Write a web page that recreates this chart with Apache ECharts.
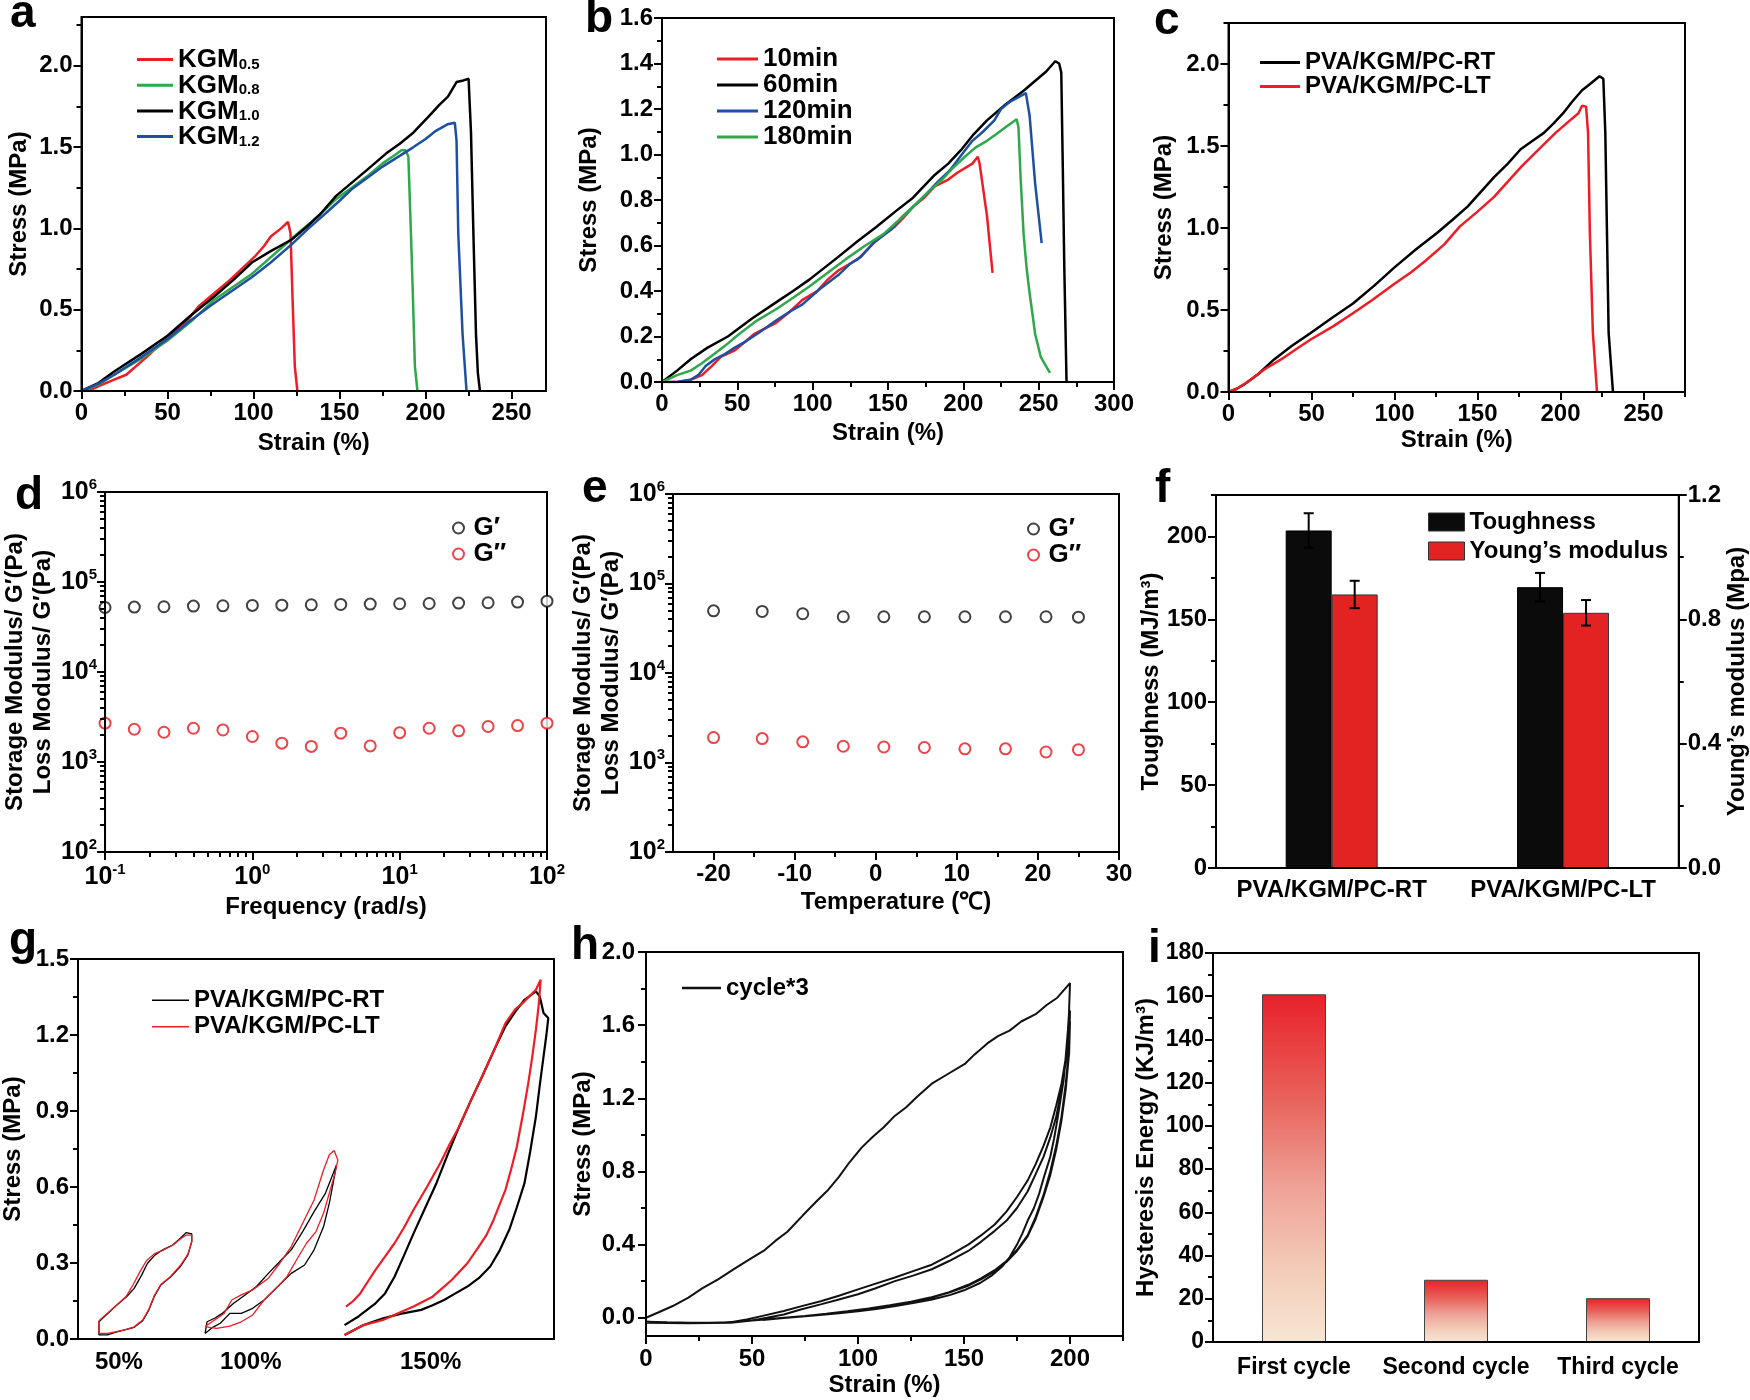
<!DOCTYPE html>
<html><head><meta charset="utf-8">
<script src="https://cdn.jsdelivr.net/npm/echarts@6/dist/echarts.min.js"></script>
<style>html,body{margin:0;padding:0;background:#fff}#c{width:1750px;height:1400px}</style>
</head><body><div id="c"></div>
<script>
// ---------------- DATA ----------------
// (a) KGM content, stress-strain
const aXTicks = [0, 50, 100, 150, 200, 250];
const aXMinor = [25, 75, 125, 175, 225];
const aYTicks = [0, 0.5, 1.0, 1.5, 2.0];
const aYMinor = [0.25, 0.75, 1.25, 1.75, 2.25];
const aNames = ['KGM0.5', 'KGM0.8', 'KGM1.0', 'KGM1.2'];
const aKGM05 = [[0,0],[5,0.005],[10,0.03],[19,0.07],[26,0.1],[38,0.21],[50,0.33],[62,0.44],[68,0.52],[77,0.6],[86,0.68],[95,0.77],[101,0.83],[106,0.89],[110,0.95],[116,1.0],[120,1.04],[121.5,0.97],[122.7,0.56],[124,0.15],[125.5,0]];
const aKGM08 = [[0,0],[10,0.04],[19,0.1],[35,0.2],[50,0.31],[65,0.44],[77,0.56],[88,0.64],[99,0.72],[113,0.85],[128,0.99],[138,1.08],[148,1.18],[157,1.25],[166,1.32],[175,1.4],[182,1.45],[186,1.48],[188.5,1.48],[190,1.44],[191.5,0.97],[192.7,0.56],[193.8,0.15],[195.3,0]];
const aKGM10 = [[0,0],[10,0.05],[19,0.12],[35,0.23],[50,0.34],[63,0.46],[77,0.58],[88,0.68],[99,0.79],[110,0.86],[122,0.93],[131,1.01],[139,1.09],[148,1.2],[157,1.28],[166,1.36],[177,1.46],[185,1.52],[193,1.59],[202,1.69],[208,1.76],[213,1.81],[218,1.9],[222,1.91],[225,1.92],[226.4,1.59],[227.8,0.97],[229.3,0.35],[230.4,0.11],[231.6,0]];
const aKGM12 = [[0,0],[10,0.045],[19,0.1],[35,0.21],[50,0.32],[63,0.43],[77,0.54],[88,0.62],[99,0.7],[110,0.79],[122,0.9],[132,1.0],[141.6,1.09],[150,1.17],[157,1.24],[166,1.31],[175,1.38],[184,1.44],[193,1.5],[200,1.55],[206,1.6],[212.7,1.64],[217,1.65],[218,1.54],[219,0.97],[221.5,0.35],[223.8,0]];

// (b) curing time
const bXTicks = [0, 50, 100, 150, 200, 250, 300];
const bXMinor = [25, 75, 125, 175, 225, 275];
const bYTicks = [0, 0.2, 0.4, 0.6, 0.8, 1.0, 1.2, 1.4, 1.6];
const bYMinor = [0.1, 0.3, 0.5, 0.7, 0.9, 1.1, 1.3, 1.5];
const bNames = ['10min', '60min', '120min', '180min'];
const b10 = [[0,0],[10,0],[19,0.01],[26.5,0.03],[33,0.07],[39,0.11],[48.6,0.14],[61,0.21],[75.7,0.26],[85,0.31],[93,0.36],[103,0.4],[110,0.45],[117,0.49],[130,0.54],[136,0.58],[142,0.62],[154,0.68],[160,0.72],[166.6,0.77],[174,0.81],[181,0.86],[190,0.89],[196,0.92],[206,0.96],[209.6,0.99],[210.8,0.96],[215.7,0.73],[219.4,0.48]];
const b60 = [[0,0],[10,0.05],[19,0.1],[30,0.15],[43.7,0.2],[60,0.28],[75.7,0.35],[87,0.4],[97.8,0.45],[117,0.55],[130,0.62],[142,0.68],[155,0.75],[166.6,0.81],[181,0.91],[190,0.96],[198.5,1.02],[207,1.09],[215.7,1.15],[228,1.22],[240,1.28],[255,1.365],[261,1.41],[263.6,1.4],[265,1.36],[266,0.95],[267,0.51],[268.5,0]];
const b120 = [[0,0],[10,0],[19,0.01],[24,0.03],[29,0.07],[35,0.1],[41,0.12],[48,0.15],[56,0.18],[65,0.22],[75.7,0.27],[85,0.31],[93,0.34],[105,0.41],[117,0.47],[125,0.52],[132,0.55],[140,0.61],[152,0.67],[160,0.73],[166.6,0.77],[176,0.83],[183,0.88],[191,0.93],[199,1.0],[206,1.06],[213,1.1],[220.6,1.15],[225,1.2],[230.5,1.23],[236,1.25],[241.5,1.27],[244,1.17],[247.7,0.87],[252,0.61]];
const b180 = [[0,0],[10,0.03],[19,0.05],[26,0.08],[34,0.12],[42,0.16],[51,0.21],[63,0.27],[75.7,0.32],[87,0.37],[97.8,0.42],[110,0.48],[122,0.54],[135,0.6],[147,0.65],[157,0.71],[166.6,0.77],[176,0.83],[186,0.89],[193,0.94],[201,0.99],[208,1.03],[215.7,1.06],[222,1.09],[228,1.12],[235.4,1.155],[236.6,1.12],[238,0.9],[240,0.65],[242,0.5],[244,0.39],[247.7,0.21],[251.4,0.11],[254,0.08],[257.5,0.04]];

// (c) RT vs LT
const cXTicks = [0, 50, 100, 150, 200, 250];
const cXMinor = [25, 75, 125, 175, 225, 275];
const cYTicks = [0, 0.5, 1.0, 1.5, 2.0];
const cYMinor = [0.25, 0.75, 1.25, 1.75, 2.25];
const cNames = ['PVA/KGM/PC-RT', 'PVA/KGM/PC-LT'];
const cRT = [[0,0],[5,0.02],[10,0.05],[18,0.11],[26.5,0.19],[38,0.28],[49.5,0.36],[62,0.45],[75,0.54],[88,0.65],[100,0.76],[113,0.87],[125.6,0.97],[135,1.05],[144,1.13],[152,1.22],[160,1.31],[168,1.39],[176,1.48],[183,1.53],[190,1.58],[196,1.64],[201.6,1.7],[207,1.77],[213,1.84],[218,1.88],[223.5,1.925],[225.8,1.91],[227,1.58],[228,0.97],[229,0.36],[231.6,0]];
const cLT = [[0,0],[5,0.02],[12.7,0.07],[22,0.14],[33.4,0.21],[42,0.27],[49.5,0.32],[63,0.4],[75,0.48],[86.4,0.56],[100,0.66],[110,0.73],[118.7,0.8],[130,0.9],[139.4,1.01],[150,1.1],[160,1.19],[168,1.28],[176,1.37],[186,1.47],[197,1.58],[205,1.65],[210.8,1.7],[213,1.745],[215.4,1.74],[216.6,1.58],[217.7,0.97],[219.5,0.36],[222,0]];

// (d) frequency sweep
const dFreq = [0.1,0.158,0.251,0.398,0.631,1,1.585,2.512,3.981,6.31,10,15.85,25.12,39.81,63.1,100];
const dGp  = [52100,52600,53100,54000,54400,54900,55300,55800,56300,56800,57300,57700,58300,58800,59800,61300];
const dGpp = [2700,2310,2140,2370,2270,1920,1620,1490,2090,1510,2120,2370,2220,2480,2540,2700];

// (e) temperature sweep
const eXTicks = [-20, -10, 0, 10, 20, 30];
const eXMinor = [-15, -5, 5, 15, 25];
const eTemp = [-20,-14,-9,-4,1,6,11,16,21,25];
const eGp  = [49500,48700,45900,42500,42500,42500,42500,42500,42500,42100];
const eGpp = [1900,1850,1700,1520,1490,1470,1420,1420,1310,1390];
const gNames = ['G′', 'G″'];

// (f) toughness / Young's modulus
const fCats = ['PVA/KGM/PC-RT', 'PVA/KGM/PC-LT'];
const fTough = [203.6, 169.4];
const fToughErr = [10.4, 8.6];
const fYoung = [0.88, 0.821];
const fYoungErr = [0.044, 0.041];
const fYTicks = [0, 50, 100, 150, 200];
const fYMinor = [25, 75, 125, 175, 225];
const fY2Ticks = [0, 0.4, 0.8, 1.2];
const fY2Minor = [0.2, 0.6, 1.0];

// (g) hysteresis loops at 50/100/150 %
const gXLabelPos = [8.6, 36.3, 74.1];
const gXLabelText = ['50%', '100%', '150%'];
const gYTicks = [0, 0.3, 0.6, 0.9, 1.2, 1.5];
const gYMinor = [0.15, 0.45, 0.75, 1.05, 1.35];
const gRT50 = [[4.4,0.068],[7.8,0.128],[10.2,0.167],[11.8,0.2],[13.4,0.253],[14.6,0.299],[16.2,0.332],[17.8,0.352],[19.9,0.371],[21.5,0.398],[22.7,0.42],[23.9,0.415],[23.9,0.385],[23.1,0.332],[21.5,0.286],[19.5,0.246],[17.4,0.213],[16.0,0.167],[14.9,0.115],[13.6,0.072],[11.8,0.046],[9.8,0.036],[7.8,0.026],[6.2,0.016],[4.4,0.016],[4.4,0.068]];
const gLT50 = [[4.4,0.072],[7.8,0.128],[10.2,0.17],[11.6,0.215],[13.0,0.265],[14.4,0.31],[16.2,0.338],[17.8,0.35],[19.9,0.37],[21.5,0.395],[22.7,0.41],[23.9,0.41],[23.9,0.385],[23.1,0.335],[21.5,0.29],[19.5,0.248],[17.4,0.215],[16.0,0.17],[14.9,0.118],[13.6,0.075],[11.8,0.048],[9.8,0.036],[7.8,0.028],[6.2,0.022],[4.4,0.022],[4.4,0.072]];
const gRT100 = [[26.7,0.022],[27.1,0.068],[28.7,0.082],[30.3,0.101],[32.7,0.141],[35.1,0.174],[37.5,0.207],[40,0.259],[42.4,0.306],[44.8,0.352],[47.2,0.424],[49.6,0.503],[52,0.576],[54.3,0.687],[53.6,0.615],[52.8,0.536],[51.6,0.444],[49.6,0.352],[47.6,0.292],[44.8,0.259],[41.6,0.2],[39.1,0.154],[36.7,0.121],[34.3,0.101],[31.9,0.101],[29.9,0.062],[28.3,0.046],[26.7,0.022]];
const gLT100 = [[26.7,0.049],[28.7,0.075],[30.7,0.101],[32.3,0.154],[34.3,0.174],[36.7,0.194],[40,0.24],[42.4,0.299],[44.8,0.365],[47.2,0.457],[49.6,0.549],[51.6,0.668],[52.8,0.727],[53.8,0.744],[54.6,0.707],[54,0.655],[52.8,0.576],[51.6,0.497],[50,0.424],[48,0.378],[45.9,0.312],[43.9,0.246],[41.6,0.2],[39.1,0.154],[36.7,0.095],[34.3,0.068],[31.9,0.051],[29.1,0.042],[26.7,0.049]];
const gRT150 = [[56,0.055],[59,0.09],[62.5,0.141],[64.5,0.18],[66.5,0.246],[68.5,0.33],[70.5,0.417],[73,0.52],[75.3,0.615],[77.7,0.73],[80.1,0.839],[82.5,0.94],[84.9,1.036],[87.4,1.14],[89.8,1.234],[91.8,1.29],[93.8,1.339],[96.2,1.372],[97,1.353],[97.8,1.287],[98.8,1.267],[98.4,1.2],[97.8,1.115],[97,1.0],[96.2,0.878],[95,0.74],[93.8,0.615],[92.2,0.52],[90.6,0.431],[88.6,0.35],[86.6,0.286],[84.2,0.24],[81.8,0.207],[79.3,0.18],[76.9,0.154],[74.5,0.133],[72.1,0.115],[68,0.1],[64.1,0.082],[60,0.055],[56,0.016]];
const gLT150 = [[56.3,0.128],[57.8,0.15],[59.3,0.18],[61,0.23],[62.5,0.273],[64.5,0.325],[66.5,0.378],[68.5,0.44],[70.5,0.51],[73.3,0.6],[76.1,0.694],[78.1,0.77],[80.1,0.839],[82.5,0.94],[84.9,1.036],[87.4,1.14],[89.8,1.247],[91.8,1.3],[93.8,1.333],[96.2,1.379],[97.2,1.418],[96.8,1.32],[96.2,1.221],[95.4,1.11],[94.6,1.01],[93.4,0.88],[92.2,0.76],[91,0.67],[89.8,0.589],[87.3,0.47],[85.8,0.41],[84.2,0.365],[81.8,0.299],[78.5,0.233],[76.5,0.2],[74.5,0.167],[70.5,0.128],[67,0.1],[64.1,0.075],[60,0.055],[56,0.016]];

// (h) three loading/unloading cycles
const hXTicks = [0, 50, 100, 150, 200];
const hXMinor = [25, 75, 125, 175, 225];
const hYTicks = [0, 0.4, 0.8, 1.2, 1.6, 2.0];
const hYMinor = [0.2, 0.6, 1.0, 1.4, 1.8];
const hLoad1 = [[0,0],[6,0.03],[12.6,0.064],[20,0.11],[26.5,0.16],[34,0.21],[42,0.27],[49,0.32],[56,0.37],[61,0.42],[66.7,0.47],[74,0.56],[80.7,0.64],[86,0.7],[91,0.77],[96,0.85],[101.7,0.93],[107,0.99],[112,1.04],[117,1.1],[122.6,1.15],[128,1.21],[134.8,1.28],[142,1.33],[150.6,1.39],[155,1.44],[161,1.5],[166,1.54],[171.5,1.57],[177,1.62],[183.8,1.66],[189,1.71],[194,1.75],[197,1.79],[200,1.83]];
const hUnload1 = [[200,1.83],[199.5,1.66],[199,1.57],[198,1.43],[197,1.3],[195.5,1.19],[194,1.08],[192.5,0.98],[190.7,0.88],[188,0.78],[185.5,0.68],[183,0.6],[180,0.53],[177.5,0.46],[175,0.4],[171.5,0.33],[168,0.28],[163,0.23],[157.6,0.19],[150,0.15],[143.6,0.125],[135,0.1],[126,0.08],[117,0.062],[108.6,0.048],[100,0.035],[91,0.024],[82,0.015],[73.7,0.007],[65,-0.002],[56,-0.01],[47,-0.018],[38.8,-0.027],[30,-0.028],[21,-0.027],[10,-0.025],[0,-0.022]];
const hLoad2 = [[0,-0.025],[10,-0.028],[20,-0.03],[30,-0.028],[40,-0.025],[47.5,-0.01],[55,0.01],[65,0.037],[73,0.062],[82.4,0.09],[91,0.12],[100,0.155],[108,0.185],[117.4,0.22],[126,0.255],[134.8,0.29],[143,0.34],[152,0.4],[158,0.45],[164.5,0.51],[170,0.58],[175,0.66],[180,0.75],[183.8,0.84],[187.5,0.94],[190.7,1.04],[193.5,1.16],[196,1.28],[198,1.42],[199.6,1.57],[200,1.68]];
const hUnload2 = [[200,1.68],[199.6,1.48],[198,1.28],[196,1.1],[193.5,0.94],[190.7,0.8],[187.5,0.67],[183.8,0.55],[180,0.45],[175,0.37],[170,0.31],[164.5,0.26],[158,0.215],[152,0.18],[143,0.14],[134,0.11],[125,0.088],[115,0.068],[105,0.05],[95,0.035],[85,0.022],[75,0.01],[65,0.0],[55,-0.01],[45,-0.02],[35,-0.028],[20,-0.03],[0,-0.028]];
const hLoad3 = [[0,-0.028],[20,-0.03],[40,-0.027],[50,-0.015],[57,0.0],[65,0.018],[73,0.045],[82.4,0.073],[91,0.1],[100,0.128],[108,0.16],[117.4,0.2],[126,0.23],[134.8,0.265],[143,0.31],[152,0.365],[158,0.415],[164.5,0.475],[170,0.53],[175,0.6],[180,0.69],[183.8,0.785],[187.5,0.88],[190.7,0.986],[193.5,1.1],[196,1.24],[198,1.4],[200,1.62]];
const hUnload3 = [[200,1.62],[199.6,1.45],[198,1.25],[196,1.08],[193.5,0.92],[190.7,0.78],[187.5,0.66],[183.8,0.54],[180,0.445],[175,0.365],[170,0.305],[164.5,0.255],[158,0.21],[152,0.175],[143,0.138],[134,0.108],[125,0.086],[115,0.066],[105,0.048],[95,0.033],[85,0.02],[75,0.008],[65,-0.002],[55,-0.012]];

// (i) hysteresis energy
const iCats = ['First cycle', 'Second cycle', 'Third cycle'];
const iVals = [160.9, 28.8, 20.3];
const iYTicks = [0, 20, 40, 60, 80, 100, 120, 140, 160, 180];
const iYMinor = [10, 30, 50, 70, 90, 110, 130, 150, 170];

// ---------------- BUILD ----------------
const FF = '"Liberation Sans", Arial, Helvetica, sans-serif';
const RED = '#ee1c24', GREEN = '#2ea84a', BLUE = '#1d4fa3', BLACK = '#000';
const F_BAR_W = 46;
function txt(size) { return { fontFamily: FF, fontWeight: 'bold', fontSize: size, color: '#000' }; }
const grids = [], xAxis = [], yAxis = [], series = [], legend = [], graphic = [];
function grid(l, t, w, h) {
  grids.push({ left: l, top: t, width: w, height: h, show: true, borderColor: '#000', borderWidth: 2, backgroundColor: 'transparent' });
  return grids.length - 1;
}
function mainAxis(gi, o) {
  const ax = {
    gridIndex: gi, type: o.type || 'value', position: o.position,
    splitLine: { show: false }, splitArea: { show: false },
    axisLine: { show: true, onZero: false, lineStyle: { color: '#000', width: 2 } },
    axisTick: { show: o.tickShow !== false, inside: false, length: 8, lineStyle: { color: '#000', width: 2 } },
    axisLabel: Object.assign({ show: true, margin: o.margin == null ? 10 : o.margin }, txt(o.labelSize || 24)),
    name: o.name, nameLocation: 'middle', nameGap: o.gap,
    nameTextStyle: Object.assign(txt(o.nameSize || 24), o.nameLH ? { lineHeight: o.nameLH } : {}),
    z: 5
  };
  if (o.min != null) ax.min = o.min;
  if (o.max != null) ax.max = o.max;
  if (o.type === 'log') ax.logBase = 10;
  if (o.data) { ax.data = o.data; ax.boundaryGap = true; ax.axisLabel.interval = 0; }
  if (o.fmt) ax.axisLabel.formatter = o.fmt;
  if (o.rich) ax.axisLabel.rich = o.rich;
  if (o.labels) ax.axisLabel.customValues = o.labels;
  if (o.ticks) ax.axisTick.customValues = o.ticks;
  return ax;
}
function minorAxis(gi, o) {
  return {
    gridIndex: gi, type: 'value', position: o.position, min: o.min, max: o.max,
    splitLine: { show: false }, axisLine: { show: false, onZero: false }, axisLabel: { show: false },
    axisTick: { show: true, inside: false, length: 5, customValues: o.ticks, lineStyle: { color: '#000', width: 2 } },
    silent: true, z: 5
  };
}
function addX(a) { xAxis.push(a); return xAxis.length - 1; }
function addY(a) { yAxis.push(a); return yAxis.length - 1; }
function line(name, data, color, width, xi, yi) {
  series.push({ type: 'line', name: name, data: data, xAxisIndex: xi, yAxisIndex: yi, symbol: 'none', showSymbol: false,
    lineStyle: { color: color, width: width }, itemStyle: { color: color }, animation: false, silent: true });
}
function scatter(name, xs, ys, color, xi, yi) {
  series.push({ type: 'scatter', name: name, data: xs.map((x, i) => [x, ys[i]]), xAxisIndex: xi, yAxisIndex: yi,
    symbol: 'emptyCircle', symbolSize: 11, itemStyle: { color: color, borderColor: color, borderWidth: 2 }, animation: false, silent: true });
}
const f1 = v => Number(v).toFixed(1);
const supRich = { b: Object.assign(txt(25), { lineHeight: 30 }), s: Object.assign(txt(15), { lineHeight: 20, verticalAlign: 'top' }) };
const logFmt = v => '{b|10}{s|' + Math.round(Math.log10(v)) + '}';
function logMinor(n0, n1) { const r = []; for (let n = n0; n < n1; n++) for (let k = 2; k <= 9; k++) r.push(Math.log10(k) + n); return r; }
function letter(t, x, y) {
  graphic.push({ type: 'text', x: x, y: y, style: { text: t, fontFamily: FF, fontWeight: 'bold', fontSize: 46, fill: '#000', align: 'left', verticalAlign: 'middle' } });
}

// ---- panel a
let gi = grid(81.5, 17, 464.5, 374);
let xi = addX(mainAxis(gi, { position: 'bottom', min: 0, max: 270, labels: aXTicks, ticks: aXTicks, name: 'Strain (%)', gap: 40 }));
addX(minorAxis(gi, { position: 'bottom', min: 0, max: 270, ticks: aXMinor }));
let yi = addY(mainAxis(gi, { position: 'left', min: 0, max: 2.3, labels: aYTicks, ticks: aYTicks, fmt: f1, name: 'Stress (MPa)', gap: 50, margin: 9 }));
addY(minorAxis(gi, { position: 'left', min: 0, max: 2.3, ticks: aYMinor }));
line(aNames[0], aKGM05, RED, 2.5, xi, yi);
line(aNames[1], aKGM08, GREEN, 2.5, xi, yi);
line(aNames[2], aKGM10, BLACK, 2.5, xi, yi);
line(aNames[3], aKGM12, BLUE, 2.5, xi, yi);
legend.push({ orient: 'vertical', left: 132, top: 42, data: aNames, icon: 'rect', itemWidth: 36, itemHeight: 3, itemGap: -5.3,
  formatter: n => '{b|KGM}{s|' + n.slice(3) + '}',
  textStyle: { rich: { b: Object.assign(txt(26), { lineHeight: 25, padding: [0, 0, 5, 0], verticalAlign: 'top' }), s: Object.assign(txt(15), { lineHeight: 10, verticalAlign: 'bottom' }) } } });
letter('a', 10, 14);

// ---- panel b
gi = grid(662, 18, 452, 364);
xi = addX(mainAxis(gi, { position: 'bottom', min: 0, max: 300, labels: bXTicks, ticks: bXTicks, name: 'Strain (%)', gap: 39 }));
addX(minorAxis(gi, { position: 'bottom', min: 0, max: 300, ticks: bXMinor }));
yi = addY(mainAxis(gi, { position: 'left', min: 0, max: 1.6, labels: bYTicks, ticks: bYTicks, fmt: f1, name: 'Stress (MPa)', gap: 61, margin: 9 }));
addY(minorAxis(gi, { position: 'left', min: 0, max: 1.6, ticks: bYMinor }));
line(bNames[0], b10, RED, 2.5, xi, yi);
line(bNames[1], b60, BLACK, 2.5, xi, yi);
line(bNames[2], b120, BLUE, 2.5, xi, yi);
line(bNames[3], b180, GREEN, 2.5, xi, yi);
legend.push({ orient: 'vertical', left: 712, top: 41, data: bNames, icon: 'rect', itemWidth: 41, itemHeight: 3, itemGap: 0,
  textStyle: Object.assign(txt(26), { lineHeight: 24 }) });
letter('b', 585, 19);

// ---- panel c
gi = grid(1228.5, 23, 456.5, 369);
xi = addX(mainAxis(gi, { position: 'bottom', min: 0, max: 275, labels: cXTicks, ticks: cXTicks, name: 'Strain (%)', gap: 36 }));
addX(minorAxis(gi, { position: 'bottom', min: 0, max: 275, ticks: cXMinor }));
yi = addY(mainAxis(gi, { position: 'left', min: 0, max: 2.25, labels: cYTicks, ticks: cYTicks, fmt: f1, name: 'Stress (MPa)', gap: 52, margin: 9 }));
addY(minorAxis(gi, { position: 'left', min: 0, max: 2.25, ticks: cYMinor }));
line(cNames[0], cRT, BLACK, 2.5, xi, yi);
line(cNames[1], cLT, RED, 2.5, xi, yi);
legend.push({ orient: 'vertical', left: 1255, top: 45.5, data: cNames, icon: 'rect', itemWidth: 40, itemHeight: 3, itemGap: 0,
  textStyle: Object.assign(txt(24), { lineHeight: 23 }) });
letter('c', 1154, 21);

// ---- panel d
gi = grid(103, 492, 444, 360);
xi = addX(mainAxis(gi, { type: 'log', position: 'bottom', min: 0.1, max: 100, fmt: logFmt, rich: supRich, name: 'Frequency (rad/s)', gap: 43 }));
addX(minorAxis(gi, { position: 'bottom', min: -1, max: 2, ticks: logMinor(-1, 2) }));
yi = addY(mainAxis(gi, { type: 'log', position: 'left', min: 100, max: 1e6, fmt: logFmt, rich: supRich, margin: 8,
  name: 'Storage Modulus/ G′(Pa)\nLoss Modulus/ G′(Pa)', gap: 47, nameLH: 28 }));
addY(minorAxis(gi, { position: 'left', min: 2, max: 6, ticks: logMinor(2, 6) }));
scatter(gNames[0], dFreq, dGp, '#111', xi, yi);
scatter(gNames[1], dFreq, dGpp, '#e8141c', xi, yi);
legend.push({ orient: 'vertical', left: 447, top: 510, data: gNames, itemWidth: 20, itemHeight: 11, itemGap: 0,
  itemStyle: { borderWidth: 2 }, textStyle: Object.assign(txt(26), { lineHeight: 21.5 }) });
letter('d', 15, 496);

// ---- panel e
gi = grid(673, 494, 446, 358);
xi = addX(mainAxis(gi, { position: 'bottom', min: -25, max: 30, labels: eXTicks, ticks: eXTicks, name: 'Temperature (℃)', gap: 38 }));
addX(minorAxis(gi, { position: 'bottom', min: -25, max: 30, ticks: eXMinor }));
yi = addY(mainAxis(gi, { type: 'log', position: 'left', min: 100, max: 1e6, fmt: logFmt, rich: supRich, margin: 8,
  name: 'Storage Modulus/ G′(Pa)\nLoss Modulus/ G′(Pa)', gap: 44, nameLH: 28 }));
addY(minorAxis(gi, { position: 'left', min: 2, max: 6, ticks: logMinor(2, 6) }));
scatter(gNames[0], eTemp, eGp, '#111', xi, yi);
scatter(gNames[1], eTemp, eGpp, '#e8141c', xi, yi);
legend.push({ orient: 'vertical', left: 1022, top: 511, data: gNames, itemWidth: 20, itemHeight: 11, itemGap: 0,
  itemStyle: { borderWidth: 2 }, textStyle: Object.assign(txt(26), { lineHeight: 21 }) });
letter('e', 582, 489);

// ---- panel f
gi = grid(1216, 495, 466, 373);
xi = addX(mainAxis(gi, { type: 'category', position: 'bottom', data: fCats, tickShow: false, margin: 10 }));
yi = addY(mainAxis(gi, { position: 'left', min: 0, max: 225, labels: fYTicks, ticks: fYTicks, name: 'Toughness (MJ/m³)', gap: 49, margin: 9 }));
addY(minorAxis(gi, { position: 'left', min: 0, max: 225, ticks: fYMinor }));
const yi2 = addY(mainAxis(gi, { position: 'right', min: 0, max: 1.2, labels: fY2Ticks, ticks: fY2Ticks, fmt: f1, name: 'Young’s modulus (Mpa)', gap: 41, margin: 9 }));
addY(minorAxis(gi, { position: 'right', min: 0, max: 1.2, ticks: fY2Minor }));
series.push({ type: 'bar', name: 'Toughness', data: fTough, xAxisIndex: xi, yAxisIndex: yi, barWidth: F_BAR_W, barGap: '0%',
  itemStyle: { color: '#0b0b0b', borderColor: '#000', borderWidth: 1 }, animation: false, silent: true });
series.push({ type: 'bar', name: 'Young’s modulus', data: fYoung, xAxisIndex: xi, yAxisIndex: yi2, barWidth: F_BAR_W, barGap: '0%',
  itemStyle: { color: '#e32222', borderColor: '#333', borderWidth: 1 }, animation: false, silent: true });
function errSeries(vals, errs, xIdx, yIdx, side) {
  series.push({ type: 'custom', xAxisIndex: xIdx, yAxisIndex: yIdx, data: vals.map((v, i) => [i, v, errs[i]]), z: 10, silent: true, animation: false,
    renderItem: (params, api) => {
      const i = api.value(0), v = api.value(1), e = api.value(2);
      const top = api.coord([i, v + e]), bot = api.coord([i, v - e]);
      const x = top[0] + side * F_BAR_W / 2, cap = 5;
      const st = { stroke: '#000', lineWidth: 2 };
      return { type: 'group', children: [
        { type: 'line', shape: { x1: x, y1: top[1], x2: x, y2: bot[1] }, style: st },
        { type: 'line', shape: { x1: x - cap, y1: top[1], x2: x + cap, y2: top[1] }, style: st },
        { type: 'line', shape: { x1: x - cap, y1: bot[1], x2: x + cap, y2: bot[1] }, style: st }] };
    } });
}
errSeries(fTough, fToughErr, xi, yi, -1);
errSeries(fYoung, fYoungErr, xi, yi2, 1);
legend.push({ orient: 'vertical', left: 1423, top: 505, data: ['Toughness', 'Young’s modulus'], icon: 'rect', itemWidth: 36, itemHeight: 18, itemGap: 5,
  itemStyle: { borderColor: '#333', borderWidth: 1 }, textStyle: Object.assign(txt(24), { lineHeight: 18 }) });
letter('f', 1155, 489);

// ---- panel g
gi = grid(78, 959, 476, 380);
xi = addX(mainAxis(gi, { position: 'bottom', min: 0, max: 100, labels: gXLabelPos, tickShow: false, margin: 11,
  fmt: v => { let k = 0; gXLabelPos.forEach((p, j) => { if (Math.abs(p - v) < Math.abs(gXLabelPos[k] - v)) k = j; }); return gXLabelText[k]; } }));
yi = addY(mainAxis(gi, { position: 'left', min: 0, max: 1.5, labels: gYTicks, ticks: gYTicks, fmt: f1, name: 'Stress (MPa)', gap: 53, margin: 9 }));
addY(minorAxis(gi, { position: 'left', min: 0, max: 1.5, ticks: gYMinor }));
line(cNames[0], gRT50, BLACK, 1.3, xi, yi);
line(cNames[1], gLT50, RED, 1.3, xi, yi);
line(cNames[0], gRT100, BLACK, 1.3, xi, yi);
line(cNames[1], gLT100, RED, 1.3, xi, yi);
line(cNames[0], gRT150, BLACK, 2.2, xi, yi);
line(cNames[1], gLT150, RED, 2.2, xi, yi);
legend.push({ orient: 'vertical', left: 147, top: 982, data: cNames, icon: 'rect', itemWidth: 37, itemHeight: 1.6, itemGap: 0,
  textStyle: Object.assign(txt(24), { lineHeight: 26.5 }) });
letter('g', 9, 941);

// ---- panel h
gi = grid(646, 952, 477, 384);
xi = addX(mainAxis(gi, { position: 'bottom', min: 0, max: 225, labels: hXTicks, ticks: hXTicks, name: 'Strain (%)', gap: 37, margin: 11 }));
addX(minorAxis(gi, { position: 'bottom', min: 0, max: 225, ticks: hXMinor }));
yi = addY(mainAxis(gi, { position: 'left', min: -0.1, max: 2.0, labels: hYTicks, ticks: hYTicks, fmt: f1, name: 'Stress (MPa)', gap: 51, margin: 11 }));
addY(minorAxis(gi, { position: 'left', min: -0.1, max: 2.0, ticks: hYMinor }));
line('cycle*3', [].concat(hLoad1, hUnload1, hLoad2, hUnload2, hLoad3, hUnload3), '#111', 2, xi, yi);
legend.push({ orient: 'vertical', left: 677, top: 971, data: ['cycle*3'], icon: 'rect', itemWidth: 39, itemHeight: 2.5, itemGap: 0,
  textStyle: Object.assign(txt(24), { lineHeight: 24 }) });
letter('h', 571, 946);

// ---- panel i
gi = grid(1213, 953, 486, 389);
xi = addX(mainAxis(gi, { type: 'category', position: 'bottom', data: iCats, tickShow: false, margin: 14, labelSize: 23 }));
yi = addY(mainAxis(gi, { position: 'left', min: 0, max: 180, labels: iYTicks, ticks: iYTicks, name: 'Hysteresis Energy (KJ/m³)', gap: 55, margin: 9, labelSize: 23 }));
addY(minorAxis(gi, { position: 'left', min: 0, max: 180, ticks: iYMinor }));
series.push({ type: 'bar', name: 'Hysteresis', data: iVals, xAxisIndex: xi, yAxisIndex: yi, barWidth: 64, animation: false, silent: true,
  itemStyle: { borderColor: '#444', borderWidth: 1,
    color: new echarts.graphic.LinearGradient(0, 0, 0, 1, [
      { offset: 0, color: '#e8202a' }, { offset: 0.3, color: '#e8625b' }, { offset: 0.55, color: '#eea196' },
      { offset: 0.8, color: '#f3cdb9' }, { offset: 1, color: '#f6e6d3' }]) } });
letter('i', 1148, 949);

const chart = echarts.init(document.getElementById('c'), null, { renderer: 'canvas' });
chart.setOption({
  animation: false, backgroundColor: '#fff',
  textStyle: { fontFamily: FF },
  grid: grids, xAxis: xAxis, yAxis: yAxis, series: series, legend: legend, graphic: graphic
});
</script></body></html>
